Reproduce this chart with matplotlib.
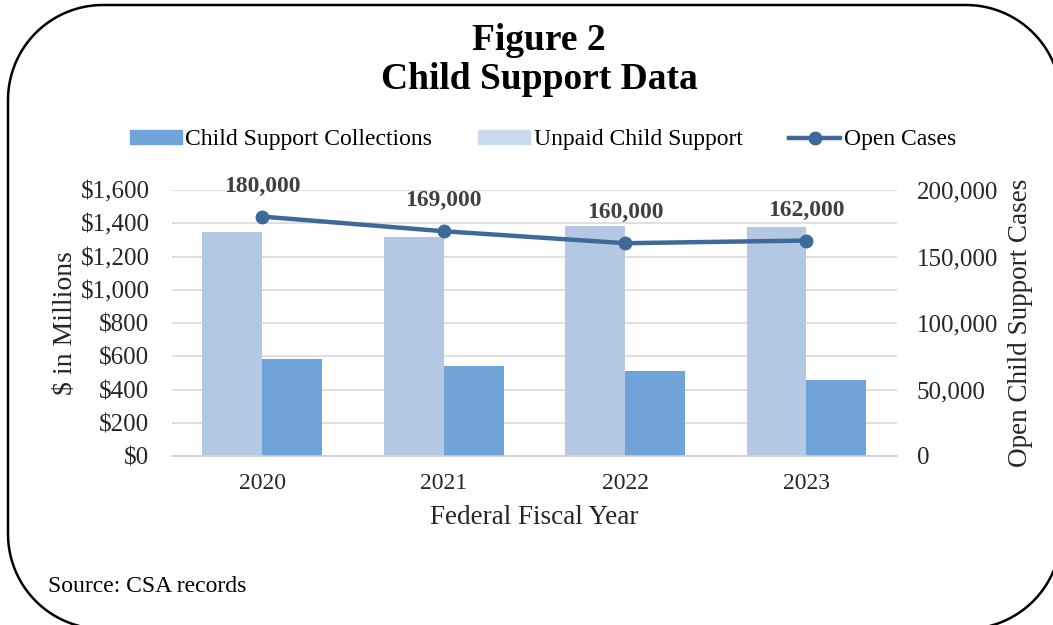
import matplotlib.pyplot as plt
from matplotlib.patches import Patch, PathPatch
from matplotlib.path import Path
from matplotlib.lines import Line2D
from matplotlib.transforms import IdentityTransform
import numpy as np

plt.rcParams['font.family'] = ['Liberation Serif', 'DejaVu Serif']

# data
years = ['2020', '2021', '2022', '2023']
unpaid = [1347, 1317, 1383, 1377]          # $ millions
collections = [583, 541, 511, 457]        # $ millions
open_cases = [180000, 169000, 160000, 162000]
case_labels = ['180,000', '169,000', '160,000', '162,000']

c_collect = '#70a4d8'
c_unpaid = '#b4c8e4'
c_unpaid_leg = '#c9d9ee'
c_line = '#3f6a98'
txt = '#262626'

fig = plt.figure(figsize=(10.53, 6.25), dpi=100)
ax = fig.add_axes([0.163, 0.2704, 0.689, 0.4256])

x = np.arange(len(years))
w = 0.33
ax.bar(x - w / 2, unpaid, w, color=c_unpaid, zorder=2)
ax.bar(x + w / 2, collections, w, color=c_collect, zorder=2)

ax.set_xlim(-0.5, 3.5)
ax.set_ylim(0, 1600)
ax.set_yticks(range(0, 1601, 200))
ax.set_yticklabels(['$' + format(v, ',') for v in range(0, 1601, 200)])
ax.set_xticks(x)
ax.set_xticklabels(years)
ax.grid(axis='y', color='#d9d9d9', lw=1.2, zorder=0)
ax.set_axisbelow(True)
for s in ['top', 'right', 'left']:
    ax.spines[s].set_visible(False)
ax.spines['bottom'].set_color('#d0d0d0')
ax.spines['bottom'].set_linewidth(1.2)
ax.tick_params(axis='y', length=0, labelsize=18, colors=txt, pad=16)
ax.tick_params(axis='x', length=0, labelsize=17, colors=txt, pad=12)
ax.set_ylabel('$ in Millions', fontsize=20, color=txt, labelpad=2)
ax.set_xlabel('Federal Fiscal Year', fontsize=19.5, color=txt, labelpad=8)

ax2 = ax.twinx()
ax2.plot(x, open_cases, color=c_line, lw=3.2, marker='o', ms=9, zorder=5)
ax2.set_ylim(0, 200000)
ax2.set_yticks(range(0, 200001, 50000))
ax2.set_yticklabels([format(v, ',') for v in range(0, 200001, 50000)])
for s in ['top', 'right', 'left', 'bottom']:
    ax2.spines[s].set_visible(False)
ax2.tick_params(axis='y', length=0, labelsize=18, colors=txt, pad=14)
ax2.set_ylabel('Open Child Support Cases', fontsize=19.5, color=txt, labelpad=7)
for xi, v, lab in zip(x, open_cases, case_labels):
    ax2.annotate(lab, (xi, v), xytext=(0, 22), textcoords='offset points',
                 ha='center', va='center', fontsize=17, fontweight='bold', color='#404040')

fig.text(0.512, 1 - 60 / 625, 'Figure 2\nChild Support Data', ha='center', va='center',
         fontsize=27, fontweight='bold', linespacing=1.12)

handles = [Patch(color=c_collect), Patch(color=c_unpaid_leg),
           Line2D([], [], color=c_line, lw=3.2, marker='o', ms=9)]
fig.legend(handles, ['Child Support Collections', 'Unpaid Child Support', 'Open Cases'],
           loc='center', bbox_to_anchor=(543 / 1053, 1 - 140 / 625), ncol=3, frameon=False,
           fontsize=17, handlelength=2.2, handleheight=0.55, handletextpad=0.15,
           columnspacing=1.95)

fig.text(48 / 1053, 1 - 587 / 625, 'Source: CSA records', fontsize=17, va='center')

# rounded frame with circular corners, in pixels (origin bottom-left)
x0, x1, y0, y1, r = 8, 1061, -4, 620, 95
pts = []
for cx, cy, a0 in [(x1 - r, y1 - r, 0), (x0 + r, y1 - r, 90),
                   (x0 + r, y0 + r, 180), (x1 - r, y0 + r, 270)]:
    t = np.radians(np.linspace(a0, a0 + 90, 30))
    pts += list(zip(cx + r * np.cos(t), cy + r * np.sin(t)))
pts.append(pts[0])
frame = PathPatch(Path(pts), transform=IdentityTransform(), fill=False,
                  edgecolor='black', lw=1.8, clip_on=False)
fig.patches.append(frame)

fig.savefig('out.png', dpi=100)
